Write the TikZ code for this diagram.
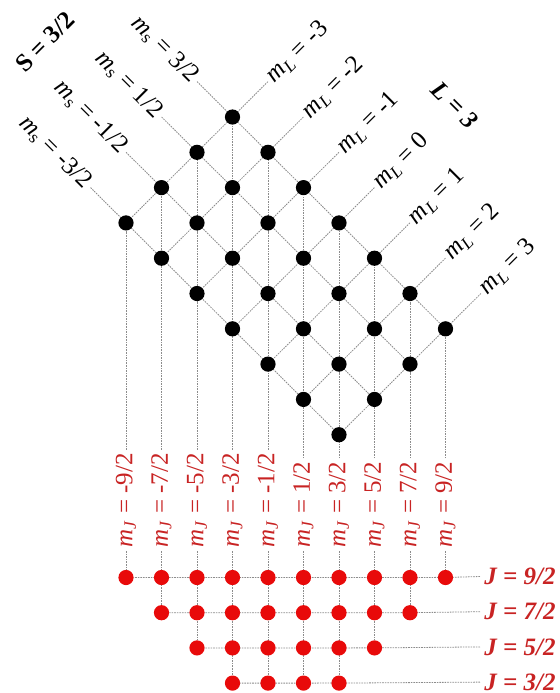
\documentclass[tikz,border=0pt]{standalone}
\usepackage{fontspec}
\setmainfont{Liberation Serif}
\usepackage{tikz}
\usetikzlibrary{positioning,backgrounds}
\definecolor{dotred}{RGB}{232,10,10}
\definecolor{textred}{RGB}{200,35,35}
\tikzstyle{blackdot} = [circle, fill=black, minimum size=7.6pt, inner sep=0pt]
\tikzstyle{reddot} = [circle, fill=dotred, minimum size=7.6pt, inner sep=0pt]
\tikzstyle{link} = [draw=black!45, line width=0.4pt, dash pattern=on 0.8pt off 0.5pt]
\tikzstyle{qlabel} = [font=\fontsize{12.5}{15}\selectfont, inner sep=1.5pt]
\tikzstyle{mslabel} = [qlabel, rotate=-45, anchor=east]
\tikzstyle{mllabel} = [qlabel, rotate=45, anchor=west]
\tikzstyle{mjlabel} = [qlabel, rotate=90, anchor=west, text=textred]
\tikzstyle{jlabel} = [qlabel, inner sep=0pt, anchor=west, text=textred, font=\fontsize{12.5}{15}\selectfont\bfseries\itshape]

\begin{document}
\begin{tikzpicture}[x=0.5pt,y=-0.5pt]
\useasboundingbox (0,0) rectangle (560,693);

\foreach \s in {0,...,3}
  \foreach \l in {0,...,6}
    \node (b-\s-\l) [blackdot] at ({232.5+(\l-\s)*35.5},{117+(\l+\s)*35.3}) {};

\foreach \j in {0,...,3} {
  \pgfmathtruncatemacro{\kmax}{9-\j}
  \foreach \k in {\j,...,\kmax}
    \node (r-\j-\k) [reddot] at ({126+\k*35.5},{577.5+\j*35.2}) {};
}

\node (S) [qlabel, rotate=45, font=\fontsize{12.5}{15}\selectfont\bfseries] at (45,42) {S = 3/2};
\node (L) [qlabel, rotate=-45, font=\fontsize{12.5}{15}\selectfont\bfseries\itshape] at (455,105) {L = 3};

\foreach \ms [count=\s from 0] in {3/2,1/2,-1/2,-3/2}
  \node (ms-\s) [mslabel] at ({232.5-(\s+1)*35.5},{117+(\s-1)*35.3}) {\textit{m}\textsubscript{s} = \ms};
\foreach \ml [count=\l from 0] in {-3,-2,-1,0,1,2,3}
  \node (ml-\l) [mllabel] at ({232.5+(\l+1)*35.5},{117+(\l-1)*35.3}) {\textit{m}\textsubscript{\textit{L}} = \ml};
\foreach \mj [count=\k from 0] in {-9/2,-7/2,-5/2,-3/2,-1/2,1/2,3/2,5/2,7/2,9/2}
  \node (mj-\k) [mjlabel] at ({126+\k*35.5},551) {\textit{m}\textsubscript{\textit{J}} = \mj};
\foreach \J [count=\j from 0] in {9/2,7/2,5/2,3/2}
  \node (J-\j) [jlabel] at (484,{576.5+\j*35.2}) {J = \J};

\begin{pgfonlayer}{background}
\foreach \s in {0,...,3}
  \draw [link] (ms-\s) \foreach \l in {0,...,6} {-- (b-\s-\l)};
\foreach \l in {0,...,6}
  \draw [link] (ml-\l) \foreach \s in {0,...,3} {-- (b-\s-\l)};

\foreach \k in {0,...,9} {
  \pgfmathtruncatemacro{\smin}{max(0,3-\k)}
  \pgfmathtruncatemacro{\smax}{min(3,9-\k)}
  \pgfmathtruncatemacro{\jmax}{min(3,min(\k,9-\k))}
  \draw [link] (mj-\k) \foreach \s [evaluate=\s as \l using int(\s+\k-3)] in {\smax,...,\smin} {-- (b-\s-\l)};
  \draw [link] (mj-\k) \foreach \j in {0,...,\jmax} {-- (r-\j-\k)};
}

\foreach \j in {0,...,3} {
  \pgfmathtruncatemacro{\kmax}{9-\j}
  \draw [link] ([xshift=-2pt]J-\j.west) \foreach \k in {\kmax,...,\j} {-- (r-\j-\k)};
}
\end{pgfonlayer}
\end{tikzpicture}
\end{document}
